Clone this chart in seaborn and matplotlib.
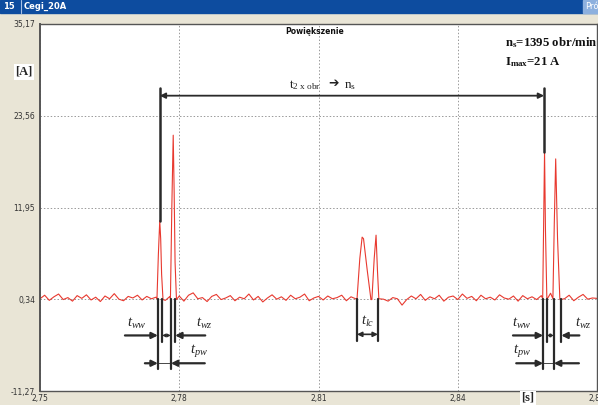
import numpy as np
import pandas as pd
import matplotlib
matplotlib.use('Agg')
import matplotlib.pyplot as plt
import seaborn as sns

# ---- values ----
t_start = 2.750
t_step = 0.001
noise_i = [
    0.40, 0.85, 0.20, 0.65, 1.00, 0.30, 0.55, 0.10, 0.80, 0.45,
    0.90, 0.25, 0.60, 0.05, 0.75, 0.40, 1.05, 0.35, 0.15, 0.70,
    0.50, 0.85, 0.25, 0.70, 0.40, 0.60, 0.45, 0.20, 0.70, 0.35,
    0.75, 0.10, 0.85, 1.15, 0.40, 0.55, 0.05, 0.70, 0.95, 0.30,
    0.50, 0.80, 0.15, 0.60, 0.40, 1.00, 0.25, 0.70, 0.00, 0.50,
    0.90, 0.35, 0.65, 0.20, 0.85, 0.40, 0.60, 1.00, 0.15, 0.50,
    0.70, 0.25, 0.75, 0.40, 0.55, 0.85, 0.15, 0.65, 0.40, 0.75,
    0.20, 0.60, 0.45, 0.85, 0.35, 0.10, 0.55, 0.40, -0.40, 0.30,
    0.75, 0.40, 0.95, 0.20, 0.65, 0.40, 0.85, 0.10, 0.60, 0.75,
    0.30, 1.00, 0.45, 0.70, 0.15, 0.85, 0.40, 0.60, 0.25, 0.90,
    0.50, 0.35, 0.75, 0.10, 0.80, 0.40, 0.65, 0.30, 0.80, 0.45,
    1.10, 0.25, 0.70, 0.40, 0.85, 0.15, 0.60, 0.95, 0.35, 0.50,
    0.45,
]

pulse_t = [
    [2.7752, 2.7755, 2.7758, 2.7760, 2.7762, 2.7765],
    [2.7781, 2.7784, 2.7787, 2.7789, 2.7791, 2.7794],
    [2.8183, 2.8189, 2.8194, 2.8197, 2.8205, 2.8213],
    [2.8215, 2.8220, 2.8224, 2.8227, 2.8230],
    [2.8583, 2.8585, 2.8587, 2.8589, 2.8592],
    [2.8605, 2.8608, 2.8611, 2.8615, 2.8620],
]
pulse_i = [
    [0.4, 6.0, 10.3, 8.0, 3.5, 0.3],
    [0.4, 12.0, 21.1, 14.0, 5.0, 0.3],
    [0.4, 5.5, 8.2, 8.0, 4.0, 0.3],
    [0.3, 5.5, 8.45, 4.0, 0.4],
    [0.4, 10.0, 19.0, 9.0, 0.3],
    [0.4, 10.0, 18.1, 8.0, 0.3],
]

x_ticks = [2.75, 2.78, 2.81, 2.84, 2.87]
x_labels = ['2,75', '2,78', '2,81', '2,84', '2,87']
y_ticks = [-11.27, 0.34, 11.95, 23.56, 35.17]
y_labels = ['-11,27', '0,34', '11,95', '23,56', '35,17']

# edges of the measured pulses (s)
left_edges = [2.7754, 2.7763, 2.7782, 2.7791]
mid_edges = [2.8183, 2.8228]
right_edges = [2.8584, 2.8592, 2.8607, 2.8623]
span_ends = [2.7758, 2.8586]
span_peaks = [10.3, 19.0]

# ---- build the signal ----
noise_t = t_start + t_step * np.arange(len(noise_i))
base = pd.DataFrame({'t': noise_t, 'i': noise_i})
keep = np.ones(len(base), dtype=bool)
for pt in pulse_t:
    keep &= ~((base['t'] >= pt[0]) & (base['t'] <= pt[-1]))
parts = [base[keep]]
for pt, pi in zip(pulse_t, pulse_i):
    parts.append(pd.DataFrame({'t': pt, 'i': pi}))
df = pd.concat(parts).sort_values('t').reset_index(drop=True)

# ---- style ----
sns.set_style('white')
plt.rcParams['font.family'] = ['DejaVu Sans']
plt.rcParams['mathtext.fontset'] = 'custom'
plt.rcParams['mathtext.rm'] = 'Liberation Serif'
plt.rcParams['mathtext.it'] = 'Liberation Serif:italic'
plt.rcParams['mathtext.bf'] = 'Liberation Serif:bold'

W, H = 598, 405
fig = plt.figure(figsize=(W / 100, H / 100), dpi=100, facecolor='#E9E5D6')
ax = fig.add_axes([40 / W, 1 - 391 / H, 557 / W, 367 / H])
ax.set_facecolor('white')

sns.lineplot(data=df, x='t', y='i', ax=ax, color='#E8392F', linewidth=0.8,
             sort=False, estimator=None)

ax.set_xlim(2.75, 2.87)
ax.set_ylim(-11.27, 35.17)
ax.set_xticks(x_ticks)
ax.set_xticklabels(x_labels)
ax.set_yticks(y_ticks)
ax.set_yticklabels(y_labels)
ax.tick_params(labelsize=5.5, colors='#333333', length=2, width=0.6, pad=1.5)
ax.tick_params(axis='x', length=1.5, pad=0.5)
ax.set_xlabel('')
ax.set_ylabel('')
ax.grid(True, color='#999999', linestyle=(0, (1.5, 2.0)), linewidth=0.7)
for side in ['left', 'bottom', 'right', 'top']:
    ax.spines[side].set_color('#555555')
    ax.spines[side].set_linewidth(1.0)
ax.spines['left'].set_linewidth(1.4)

# ---- annotations ----
ink = '#2A2A2A'
arr = dict(arrowstyle='-|>', color=ink, lw=1.6, mutation_scale=9,
           shrinkA=0, shrinkB=0)
arr_small = dict(arrowstyle='<|-|>', color=ink, lw=0.8, mutation_scale=5,
                 shrinkA=0, shrinkB=0)

# long span between the two switch-on pulses
y_top = 26.1
for x0, pk in zip(span_ends, span_peaks):
    ax.plot([x0, x0], [pk, y_top + 1.0], color=ink, lw=1.8)
ax.annotate('', xy=(span_ends[0], y_top), xytext=(span_ends[1], y_top),
            arrowprops=dict(arrowstyle='<|-|>', color=ink, lw=1.3,
                            mutation_scale=8, shrinkA=0, shrinkB=0))
mid_span = np.mean(span_ends)
ax.annotate(r'$\mathrm{t}_{\mathrm{2\ x\ obr}}$', xy=(mid_span, y_top + 0.5),
            xytext=(-34, 0), textcoords='offset points', fontsize=9.5,
            ha='center', va='bottom', color='#222222')
ax.annotate('➔', xy=(mid_span, y_top + 0.5), xytext=(-13, 1.5),
            textcoords='offset points', fontsize=9, family='DejaVu Sans',
            fontweight='bold', ha='center', va='bottom', color='#222222')
ax.annotate(r'$\mathrm{n}_{\mathrm{s}}$', xy=(mid_span, y_top + 0.5),
            xytext=(-1, 0), textcoords='offset points', fontsize=9.5,
            ha='center', va='bottom', color='#222222')

y_base = 0.4
y_row1 = -4.24
y_row2 = -7.76
y_long = -8.5
y_short = -5.1


def pulse_group(edges, out1, out2, lab_x):
    e1, e2, e3, e4 = edges
    for x0, y1 in zip(edges, [y_long, y_short, y_long, y_short]):
        ax.plot([x0, x0], [y_base, y1], color=ink, lw=1.6)
    ax.annotate('', xy=(e1, y_row1), xytext=(e1 - out1[0], y_row1), arrowprops=arr)
    ax.annotate('', xy=(e4, y_row1), xytext=(e4 + out1[1], y_row1), arrowprops=arr)
    ax.annotate('', xy=(e2, y_row1), xytext=(e3, y_row1), arrowprops=arr_small)
    ax.annotate('', xy=(e1, y_row2), xytext=(e1 - out2[0], y_row2), arrowprops=arr)
    ax.annotate('', xy=(e3, y_row2), xytext=(e3 + out2[1], y_row2), arrowprops=arr)
    ax.plot([e1, e3], [y_row2, y_row2], color=ink, lw=0.6)
    ax.text(lab_x[0], y_row1 + 0.6, r'$t_{ww}$', fontsize=10.5, ha='center', va='bottom')
    ax.text(lab_x[1], y_row1 + 0.6, r'$t_{wz}$', fontsize=10.5, ha='center', va='bottom')
    ax.text(lab_x[2], y_row2 + 0.6, r'$t_{pw}$', fontsize=10.5, ha='center', va='bottom')


pulse_group(left_edges, (0.0071, 0.0065), (0.0028, 0.0073),
            (2.7709, 2.7855, 2.7843))
pulse_group(right_edges, (0.0065, 0.0039), (0.0058, 0.0054),
            (2.8538, 2.8670, 2.8538))

for x0 in mid_edges:
    ax.plot([x0, x0], [y_base, -4.9], color=ink, lw=1.6)
ax.annotate('', xy=(mid_edges[0], -4.1), xytext=(mid_edges[1], -4.1),
            arrowprops=dict(arrowstyle='<|-|>', color=ink, lw=1.2,
                            mutation_scale=7, shrinkA=0, shrinkB=0))
ax.text(np.mean(mid_edges), -3.4, r'$t_{lc}$', fontsize=10.5, ha='center', va='bottom')

# ---- window chrome and labels ----
bar_h = 13 / H
fig.add_artist(plt.Rectangle((0, 1 - bar_h), 1, bar_h, transform=fig.transFigure,
                             color='#0D4C9F', zorder=0))
fig.add_artist(plt.Rectangle((583 / W, 1 - bar_h), 15 / W, bar_h,
                             transform=fig.transFigure, color='#8DB0DE', zorder=1))
fig.add_artist(plt.Line2D([21 / W, 21 / W], [1 - bar_h, 1], transform=fig.transFigure,
                          color='#A8C0E6', lw=0.8))
fig.text(3 / W, 1 - 6.5 / H, '15', color='white', fontsize=6, fontweight='bold', va='center')
fig.text(24 / W, 1 - 6.5 / H, 'Cegi_20A', color='white', fontsize=6,
         fontweight='bold', va='center')
fig.text(585 / W, 1 - 6.5 / H, 'Prób', color='white', fontsize=6, va='center')

fig.text(315 / W, 1 - 31 / H, 'Powiększenie', fontsize=5.5, fontweight='bold',
         ha='center', va='center', color='#111111')
fig.text(505 / W, 1 - 43 / H, r'n$_\mathbf{s}$=1395 obr/min', family='Liberation Serif',
         fontweight='bold', fontsize=9.2, ha='left', va='center', color='#111111')
fig.text(505 / W, 1 - 62 / H, r'I$_\mathbf{max}$=21 A', family='Liberation Serif',
         fontweight='bold', fontsize=9.2, ha='left', va='center', color='#111111')

fig.text(24 / W, 1 - 72 / H, '[A]', family='Liberation Serif', fontsize=9,
         fontweight='bold', ha='center', va='center',
         bbox=dict(facecolor='white', edgecolor='none', pad=1.2))
fig.text(528 / W, 1 - 398 / H, '[s]', family='Liberation Serif', fontsize=9,
         fontweight='bold', ha='center', va='center',
         bbox=dict(facecolor='white', edgecolor='none', pad=1.0))

fig.savefig('out.png', dpi=100, facecolor=fig.get_facecolor())
